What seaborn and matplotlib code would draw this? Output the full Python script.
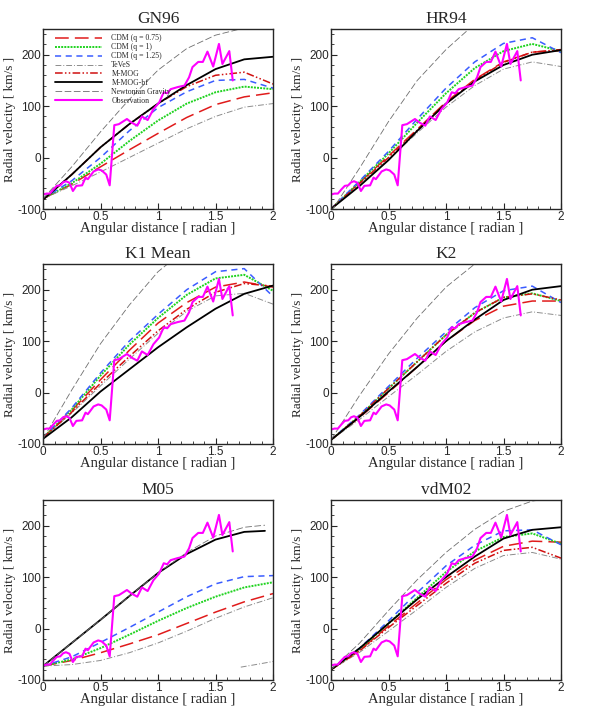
import numpy as np
import matplotlib
matplotlib.use("Agg")
import matplotlib.pyplot as plt
import seaborn as sns
from matplotlib.ticker import MultipleLocator

X = [0, 0.25, 0.5, 0.75, 1.0, 1.25, 1.5, 1.75, 2.0]
X_M05_SHORT = [0, 0.25, 0.5, 0.75, 1.0, 1.25, 1.5, 1.75, 1.93]

# observation (same in every panel)
OBS_X = [0, 0.03, 0.06, 0.09, 0.12, 0.15, 0.175, 0.2, 0.23, 0.26, 0.29, 0.34,
         0.37, 0.39, 0.44, 0.48, 0.51, 0.55, 0.58, 0.62, 0.66, 0.73, 0.77, 0.82,
         0.86, 0.91, 0.96, 1.01, 1.05, 1.08, 1.11, 1.17, 1.23, 1.27, 1.30, 1.35,
         1.39, 1.43, 1.48, 1.53, 1.56, 1.62, 1.65]
OBS_Y = [-72, -70, -70, -62, -55, -54, -48, -46, -49, -65, -55, -54,
         -39, -42, -27, -23, -25, -33, -54, 63, 65, 75, 68, 62,
         80, 73, 94, 107, 127, 125, 133, 137, 140, 156, 176, 186,
         186, 206, 177, 221, 182, 207, 150]

# GN96
GN96_CDM075 = [-80, -52, -18, 15, 47, 78, 103, 118, 126]
GN96_CDM1 = [-80, -50, -12, 32, 72, 105, 127, 138, 133]
GN96_CDM125 = [-80, -45, 0, 52, 97, 128, 150, 152, 135]
GN96_TEVES = [-80, -55, -28, 0, 28, 56, 80, 98, 105]
GN96_MMOG = [-82, -33, 20, 65, 105, 138, 160, 166, 143]
GN96_MMOGBF = [-82, -33, 20, 65, 105, 141, 172, 191, 196]
GN96_NEWTON = [-80, -18, 50, 113, 170, 212, 238, 252, 258]

# HR94
HR94_CDM075 = [-100, -48, 3, 55, 108, 152, 186, 205, 208]
HR94_CDM1 = [-100, -47, 8, 68, 125, 174, 207, 221, 207]
HR94_CDM125 = [-100, -45, 12, 75, 135, 186, 222, 233, 204]
HR94_TEVES = [-100, -52, -3, 48, 98, 140, 172, 186, 177]
HR94_MMOG = [-100, -50, 0, 53, 105, 150, 185, 205, 210]
HR94_MMOGBF = [-100, -55, -5, 52, 105, 148, 180, 200, 209]
HR94_NEWTON = [-105, -20, 70, 150, 210, 260, 290, 300, 305]

# K1 Mean
K1_CDM075 = [-88, -35, 25, 82, 135, 175, 205, 215, 205]
K1_CDM1 = [-88, -33, 33, 93, 145, 190, 222, 229, 198]
K1_CDM125 = [-88, -30, 38, 100, 152, 200, 235, 241, 187]
K1_TEVES = [-88, -40, 13, 65, 115, 158, 188, 193, 172]
K1_MMOG = [-88, -38, 18, 70, 120, 162, 195, 212, 207]
K1_MMOGBF = [-90, -48, 2, 45, 88, 127, 163, 192, 208]
K1_NEWTON = [-90, 5, 95, 170, 235, 280, 305, 315, 315]

# K2
K2_CDM075 = [-92, -48, 0, 50, 100, 140, 168, 178, 178]
K2_CDM1 = [-92, -45, 8, 60, 112, 155, 185, 193, 178]
K2_CDM125 = [-92, -43, 12, 67, 118, 165, 198, 207, 175]
K2_TEVES = [-92, -52, -8, 35, 80, 118, 145, 157, 150]
K2_MMOG = [-92, -45, 8, 60, 112, 155, 185, 192, 180]
K2_MMOGBF = [-92, -47, 2, 50, 100, 142, 180, 200, 207]
K2_NEWTON = [-92, -5, 75, 145, 205, 250, 285, 300, 305]

# M05
M05_CDM075 = [-73, -62, -47, -30, -12, 10, 32, 52, 68]
M05_CDM1 = [-73, -60, -38, -12, 15, 40, 62, 80, 90]
M05_CDM125 = [-73, -55, -27, 2, 32, 62, 87, 101, 103]
M05_TEVES = [-73, -70, -62, -47, -28, -5, 20, 42, 60]
M05_MMOGBF = [-73, -28, 17, 63, 108, 145, 173, 188, 190]
M05_NEWTON = [-73, -28, 17, 63, 108, 148, 180, 197, 201]
M05_EXTRA_X = [1.72, 1.85, 2.0]
M05_EXTRA_Y = [-75, -70, -64]

# vdM02
VDM_CDM075 = [-80, -42, 5, 50, 95, 133, 160, 170, 168]
VDM_CDM1 = [-80, -40, 10, 60, 110, 150, 178, 185, 165]
VDM_CDM125 = [-80, -38, 15, 70, 122, 162, 190, 192, 163]
VDM_TEVES = [-80, -46, -5, 37, 80, 117, 142, 148, 135]
VDM_MMOG = [-80, -43, 2, 45, 88, 127, 152, 158, 137]
VDM_MMOGBF = [-80, -38, 10, 57, 100, 140, 175, 192, 197]
VDM_NEWTON = [-80, -28, 35, 95, 148, 193, 228, 248, 255]

STYLES = {
    "CDM (q = 0.75)": dict(color="#e01b1b", lw=1.1, ls=(0, (9, 4))),
    "CDM (q = 1)": dict(color="#1fd31f", lw=1.4, ls=(0, (1, 0.6))),
    "CDM (q = 1.25)": dict(color="#3a5cff", lw=1.1, ls=(0, (4, 3))),
    "TeVeS": dict(color="#8c8c8c", lw=0.7, ls=(0, (6, 2, 1, 2))),
    "M-MOG": dict(color="#d01010", lw=1.1, ls=(0, (5, 1.5, 1, 1.5, 1, 1.5))),
    "M-MOG-bf": dict(color="black", lw=1.3, ls="-"),
    "Newtonian Gravity": dict(color="#6e6e6e", lw=0.6, ls=(0, (8, 3))),
    "Observation": dict(color="#ff00ff", lw=1.5, ls="-"),
}

panels = [
    ("GN96", [("CDM (q = 0.75)", X, GN96_CDM075), ("CDM (q = 1)", X, GN96_CDM1),
              ("CDM (q = 1.25)", X, GN96_CDM125), ("TeVeS", X, GN96_TEVES),
              ("M-MOG", X, GN96_MMOG), ("M-MOG-bf", X, GN96_MMOGBF),
              ("Newtonian Gravity", X, GN96_NEWTON)]),
    ("HR94", [("CDM (q = 0.75)", X, HR94_CDM075), ("CDM (q = 1)", X, HR94_CDM1),
              ("CDM (q = 1.25)", X, HR94_CDM125), ("TeVeS", X, HR94_TEVES),
              ("M-MOG", X, HR94_MMOG), ("M-MOG-bf", X, HR94_MMOGBF),
              ("Newtonian Gravity", X, HR94_NEWTON)]),
    ("K1 Mean", [("CDM (q = 0.75)", X, K1_CDM075), ("CDM (q = 1)", X, K1_CDM1),
                 ("CDM (q = 1.25)", X, K1_CDM125), ("TeVeS", X, K1_TEVES),
                 ("M-MOG", X, K1_MMOG), ("M-MOG-bf", X, K1_MMOGBF),
                 ("Newtonian Gravity", X, K1_NEWTON)]),
    ("K2", [("CDM (q = 0.75)", X, K2_CDM075), ("CDM (q = 1)", X, K2_CDM1),
            ("CDM (q = 1.25)", X, K2_CDM125), ("TeVeS", X, K2_TEVES),
            ("M-MOG", X, K2_MMOG), ("M-MOG-bf", X, K2_MMOGBF),
            ("Newtonian Gravity", X, K2_NEWTON)]),
    ("M05", [("CDM (q = 0.75)", X, M05_CDM075), ("CDM (q = 1)", X, M05_CDM1),
             ("CDM (q = 1.25)", X, M05_CDM125), ("TeVeS", X, M05_TEVES),
             ("TeVeS", M05_EXTRA_X, M05_EXTRA_Y),
             ("M-MOG-bf", X_M05_SHORT, M05_MMOGBF),
             ("Newtonian Gravity", X_M05_SHORT, M05_NEWTON)]),
    ("vdM02", [("CDM (q = 0.75)", X, VDM_CDM075), ("CDM (q = 1)", X, VDM_CDM1),
               ("CDM (q = 1.25)", X, VDM_CDM125), ("TeVeS", X, VDM_TEVES),
               ("M-MOG", X, VDM_MMOG), ("M-MOG-bf", X, VDM_MMOGBF),
               ("Newtonian Gravity", X, VDM_NEWTON)]),
]

sns.set_style("ticks")
plt.rcParams["font.family"] = ["Liberation Sans", "DejaVu Sans"]

fig = plt.figure(figsize=(5.99, 7.08), dpi=100)
lefts = [43 / 599, 331 / 599]
bottoms = [(708 - 209) / 708, (708 - 444) / 708, (708 - 680) / 708]
w, h = 230 / 599, 180 / 708

for i, (title, series) in enumerate(panels):
    ax = fig.add_axes([lefts[i % 2], bottoms[i // 2], w, h])
    for name, xs, ys in series:
        st = STYLES[name]
        sns.lineplot(x=xs, y=ys, ax=ax, color=st["color"], linewidth=st["lw"],
                     linestyle=st["ls"], label=name if i == 0 else None,
                     legend=False)
    st = STYLES["Observation"]
    sns.lineplot(x=OBS_X, y=OBS_Y, ax=ax, color=st["color"], linewidth=st["lw"],
                 linestyle=st["ls"], label="Observation" if i == 0 else None,
                 legend=False, sort=False)

    ax.set_xlim(0, 2)
    ax.set_ylim(-100, 250)
    ax.xaxis.set_minor_locator(MultipleLocator(0.1))
    ax.yaxis.set_minor_locator(MultipleLocator(20))
    ax.set_xticks([0, 0.5, 1, 1.5, 2])
    ax.set_xticklabels(["0", "0.5", "1", "1.5", "2"])
    ax.set_yticks([-100, 0, 100, 200])
    ax.set_yticklabels(["-100", "0", "100", "200"])
    ax.tick_params(axis="both", which="major", direction="in", labelsize=8.5,
                   length=4, width=0.8, pad=1.5)
    ax.tick_params(axis="both", which="minor", direction="in", length=2,
                   width=0.6)
    for sp in ax.spines.values():
        sp.set_linewidth(1.0)
    ax.set_title(title, fontsize=12.5, family="Liberation Serif", pad=4)
    ax.set_xlabel("Angular distance [ radian ]", fontsize=10.5,
                  family="Liberation Serif", labelpad=-1)
    ax.set_ylabel("Radial velocity [ km/s ]", fontsize=9.5,
                  family="Liberation Serif", labelpad=1)

    if i == 0:
        ax.legend(loc="upper left", frameon=False,
                  prop={"family": "Liberation Serif", "size": 5.6},
                  handlelength=6.0, labelspacing=0.12, handletextpad=1.2,
                  borderaxespad=0.3, bbox_to_anchor=(0.03, 1.0))

fig.savefig("out.png", dpi=100)
